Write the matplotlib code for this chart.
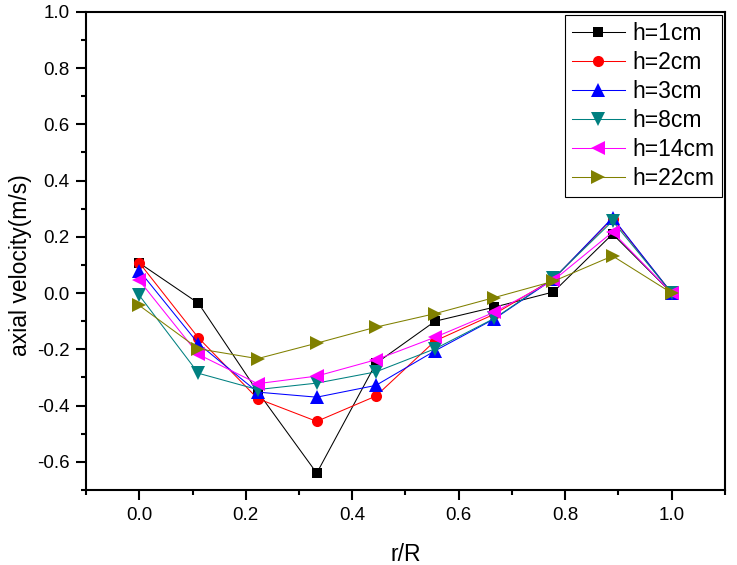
import matplotlib
matplotlib.use('Agg')
import matplotlib.pyplot as plt
import numpy as np
from matplotlib.ticker import MultipleLocator, FormatStrFormatter

plt.rcParams['font.family'] = ['Liberation Sans', 'DejaVu Sans']
plt.rcParams['axes.unicode_minus'] = False

r_over_R = [0.0, 1 / 9, 2 / 9, 3 / 9, 4 / 9, 5 / 9, 6 / 9, 7 / 9, 8 / 9, 1.0]

labels = ['h=1cm', 'h=2cm', 'h=3cm', 'h=8cm', 'h=14cm', 'h=22cm']
v_1cm = [0.107, -0.036, -0.35, -0.64, -0.25, -0.10, -0.05, 0.004, 0.21, 0.0]
v_2cm = [0.108, -0.159, -0.375, -0.456, -0.366, -0.17, -0.075, 0.05, 0.265, 0.0]
v_3cm = [0.08, -0.18, -0.352, -0.37, -0.328, -0.205, -0.092, 0.05, 0.268, 0.0]
v_8cm = [-0.008, -0.285, -0.343, -0.32, -0.28, -0.198, -0.09, 0.052, 0.256, 0.0]
v_14cm = [0.045, -0.218, -0.322, -0.295, -0.237, -0.157, -0.068, 0.045, 0.217, 0.0]
v_22cm = [-0.044, -0.198, -0.233, -0.178, -0.121, -0.073, -0.016, 0.042, 0.132, 0.0]

series = [v_1cm, v_2cm, v_3cm, v_8cm, v_14cm, v_22cm]
colors = ['black', 'red', 'blue', '#008080', 'magenta', '#808000']
markers = ['s', 'o', '^', 'v', '<', '>']
sizes = [7, 8, 9.5, 9.5, 9.5, 9.5]

fig = plt.figure(figsize=(7.37, 5.65), dpi=100)
ax = fig.add_axes([0.1167, 0.1327, 0.867, 0.8465])

for vals, lab, c, m, ms in zip(series, labels, colors, markers, sizes):
    ax.plot(r_over_R, vals, color=c, marker=m, markersize=ms,
            markeredgewidth=0, linewidth=0.75, label=lab)

ax.set_xlim(-0.1, 1.1)
ax.set_ylim(-0.7, 1.0)
ax.xaxis.set_major_locator(MultipleLocator(0.2))
ax.xaxis.set_minor_locator(MultipleLocator(0.1))
ax.yaxis.set_major_locator(MultipleLocator(0.2))
ax.yaxis.set_minor_locator(MultipleLocator(0.1))
ax.xaxis.set_major_formatter(FormatStrFormatter('%.1f'))
ax.yaxis.set_major_formatter(FormatStrFormatter('%.1f'))

for s in ax.spines.values():
    s.set_linewidth(1.5)
ax.tick_params(which='major', direction='out', length=7, width=1.5,
               labelsize=13.5, pad=5)
ax.tick_params(which='minor', direction='out', length=3.5, width=1.5)
ax.tick_params(top=False, right=False, which='both')

ax.set_xlabel('r/R', fontsize=16.5, labelpad=14)
ax.set_ylabel('axial velocity(m/s)', fontsize=16.5, labelpad=6)
ax.yaxis.set_label_coords(-0.085, 0.47)

leg = ax.legend(loc='upper right', fontsize=16.5, frameon=True, fancybox=False,
                edgecolor='black', framealpha=1, handlelength=2.3,
                handletextpad=0.35, labelspacing=0.26, borderpad=0.3,
                borderaxespad=0.15)
leg.get_frame().set_linewidth(0.8)

fig.savefig('out.png', dpi=100)
